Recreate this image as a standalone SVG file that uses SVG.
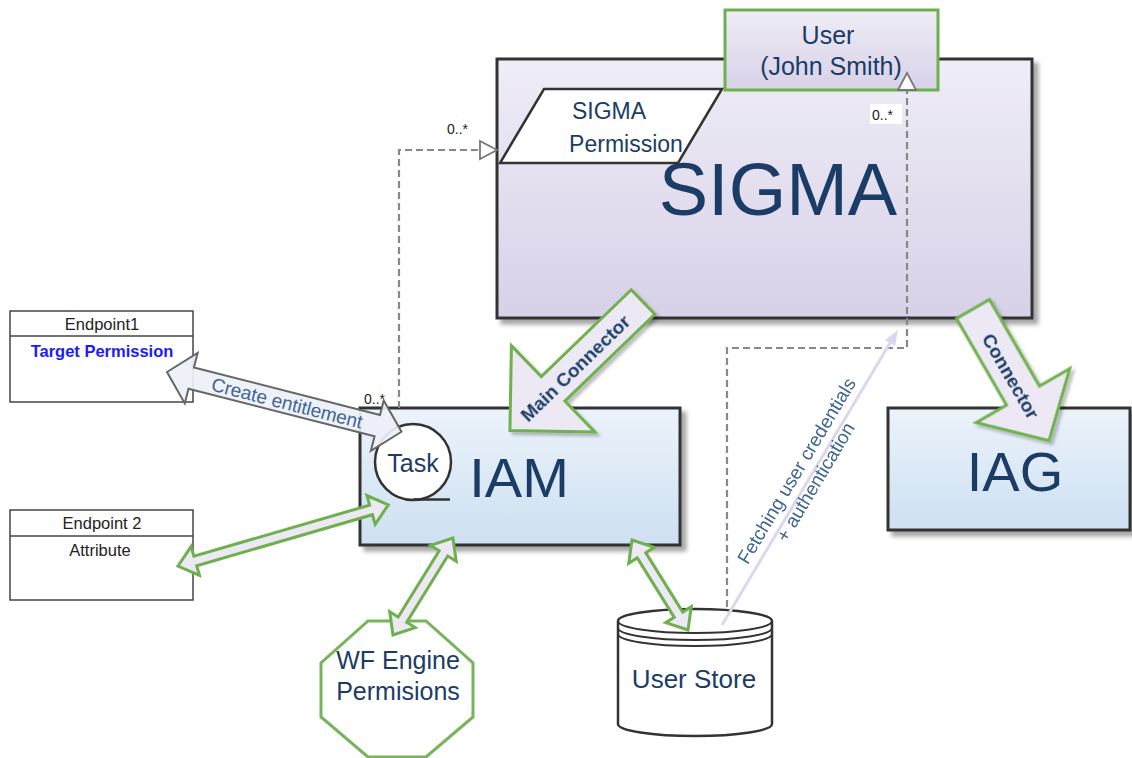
<svg xmlns="http://www.w3.org/2000/svg" width="1132" height="758" viewBox="0 0 1132 758">
<defs>
<linearGradient id="lav" x1="0" y1="0" x2="0" y2="1"><stop offset="0" stop-color="#efedf7"/><stop offset="1" stop-color="#d7d1e7"/></linearGradient>
<linearGradient id="blu" x1="0" y1="0" x2="0" y2="1"><stop offset="0" stop-color="#ecf3fb"/><stop offset="1" stop-color="#cde0f1"/></linearGradient>
<filter id="sh" x="-10%" y="-10%" width="130%" height="130%"><feDropShadow dx="5" dy="5" stdDeviation="2" flood-color="#000" flood-opacity="0.35"/></filter>
<filter id="sh2" x="-10%" y="-10%" width="130%" height="130%"><feDropShadow dx="3" dy="3" stdDeviation="1.5" flood-color="#000" flood-opacity="0.25"/></filter>
</defs>
<style>
text{font-family:"Liberation Sans",Arial,sans-serif;}
.box{stroke:#333;stroke-width:3;}
.big{fill:#1b3c66;text-anchor:middle;}
.lbl{fill:#1b3c66;text-anchor:middle;}
.ga{fill:#ece8f4;stroke:#6fb04e;stroke-width:3;stroke-linejoin:miter;}
.dash{fill:none;stroke:#888;stroke-width:2.2;stroke-dasharray:7,4;}
.tri{fill:#fff;stroke:#777;stroke-width:1.8;}
.ep{fill:#fff;stroke:#444;stroke-width:1.5;}
.ept{fill:#222;font-size:16.5px;text-anchor:middle;}
.mul{fill:#222;font-size:14px;}
.at{fill:#3d6591;font-size:19px;text-anchor:middle;}
.bt{fill:#1b3c66;font-size:19px;font-weight:bold;text-anchor:middle;}
</style>

<g id="sigma">
<rect x="497" y="59" width="535" height="259" fill="url(#lav)" class="box" filter="url(#sh)"/>
<text class="big" x="778" y="215" font-size="74">SIGMA</text>
</g>

<g id="sigma-permission">
<polygon points="544,89 722,89 678,163 500,163" fill="#fff" stroke="#333" stroke-width="2.5"/>
<text class="lbl" x="609" y="119" font-size="23">SIGMA</text>
<text class="lbl" x="626" y="152" font-size="23">Permission</text>
</g>

<g id="user">
<rect x="725" y="10" width="213" height="80" fill="url(#lav)" stroke="#6fb04e" stroke-width="3"/>
<text class="lbl" x="828" y="44" font-size="25">User</text>
<text class="lbl" x="831" y="75" font-size="25">(John Smith)</text>
</g>

<g id="iam">
<rect x="360" y="408" width="320" height="137" fill="url(#blu)" class="box" filter="url(#sh)"/>
<text class="big" x="519" y="497" font-size="56">IAM</text>
</g>

<g id="iag">
<rect x="888" y="408" width="242" height="122" fill="url(#blu)" class="box" filter="url(#sh)"/>
<text class="big" x="1015" y="491" font-size="56">IAG</text>
</g>

<g id="endpoint1">
<rect x="10" y="311" width="183" height="91" class="ep"/>
<line x1="10" y1="336" x2="193" y2="336" stroke="#444" stroke-width="1.5"/>
<text class="ept" x="102" y="330">Endpoint1</text>
<text x="102" y="357" font-size="16.5" font-weight="bold" fill="#1a1aff" text-anchor="middle">Target Permission</text>
</g>

<g id="endpoint2">
<rect x="10" y="510" width="183" height="90" class="ep"/>
<line x1="10" y1="536" x2="193" y2="536" stroke="#444" stroke-width="1.5"/>
<text class="ept" x="102" y="529">Endpoint 2</text>
<text class="ept" x="100" y="556">Attribute</text>
</g>

<g id="wf-engine">
<polygon points="368,621 426,621 473,663 473,717 426,757 368,757 321,717 321,663" fill="#fff" stroke="#77b55a" stroke-width="3"/>
<text class="lbl" x="398" y="669" font-size="25">WF Engine</text>
<text class="lbl" x="398" y="700" font-size="25">Permisions</text>
</g>

<g id="user-store">
<path d="M618,621 A77,12 0 0,1 772,621 L772,724 A77,12 0 0,1 618,724 Z" fill="#fff" stroke="#333" stroke-width="2.5"/>
<path d="M618,621 A77,12 0 0,0 772,621 M618,628 A77,12 0 0,0 772,628 M618,634 A77,12 0 0,0 772,634" fill="none" stroke="#333" stroke-width="2"/>
<text class="lbl" x="694" y="688" font-size="26">User Store</text>
</g>

<g id="connectors">
<path class="dash" d="M399,408 L399,150 L480,150"/>
<polygon class="tri" points="480,141 497,150 480,159"/>
<text class="mul" x="447" y="134">0..*</text>
<text class="mul" x="364" y="404">0..*</text>

<path class="dash" d="M727,607 L727,348 L907,348 L907,90"/>
<polygon class="tri" points="898,90 907,73 916,90"/>
<rect x="870" y="104" width="32" height="20" fill="#fff"/>
<text class="mul" x="872" y="120">0..*</text>

<g filter="url(#sh2)">
<polygon class="ga" transform="translate(643,302) rotate(136)" points="0,-17 125,-17 125,-60 185,0 125,60 125,17 0,17"/>
<polygon class="ga" transform="translate(973,309) rotate(60)" points="0,-19 100,-19 100,-54 152,0 100,54 100,19 0,19"/>
</g>
<text class="bt" transform="translate(575,368) rotate(-44)" dy="0.35em">Main Connector</text>
<text class="bt" transform="translate(1011,376) rotate(60)" dy="0.35em">Connector</text>

<polygon class="ga" transform="translate(178,566) rotate(-16.2)" points="0,0 18,-15 18,-5 201,-5 201,-15 219,0 201,15 201,5 18,5 18,15"/>
<polygon class="ga" transform="translate(393,635) rotate(-58.3)" points="0,0 18,-15 18,-5 96,-5 96,-15 114,0 96,15 96,5 18,5 18,15"/>
<polygon class="ga" transform="translate(632,540) rotate(58.1)" points="0,0 18,-15 18,-5 88,-5 88,-15 106,0 88,15 88,5 18,5 18,15"/>

<line x1="722" y1="625" x2="893" y2="338" stroke="#dcd7ee" stroke-width="3"/>
<polygon points="898,330 885,340 895,346" fill="#dcd7ee"/>
<text class="at" transform="translate(797,471) rotate(-59.2)"><tspan x="0" y="6">Fetching user credentials</tspan><tspan x="0" y="28">+ authentication</tspan></text>
</g>

<g id="task">
<circle cx="413" cy="462" r="38" fill="#fff" stroke="#333" stroke-width="2.5"/>
<line x1="413" y1="499.5" x2="450" y2="499.5" stroke="#333" stroke-width="2.5"/>
<text class="lbl" x="413" y="472" font-size="25">Task</text>
</g>

<g id="create-entitlement">
<polygon transform="translate(167,372) rotate(14.3)" points="0,0 25,-26 25,-11 217,-11 217,-26 242,0 217,26 217,11 25,11 25,26" fill="#eef0f8" fill-opacity="0.92" stroke="#666" stroke-width="2"/>
<text class="at" transform="translate(287,403) rotate(14.3)" dy="0.35em">Create entitlement</text>
</g>
</svg>
